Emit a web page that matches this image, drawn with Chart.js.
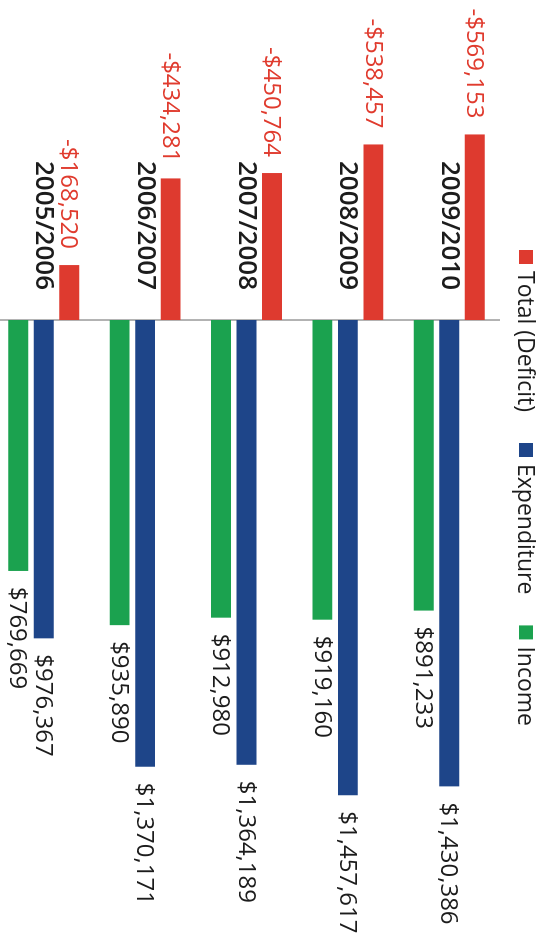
<!DOCTYPE html>
<html>
<head>
<meta charset="utf-8">
<script src="https://cdn.jsdelivr.net/npm/chart.js@4.4.0/dist/chart.umd.min.js"></script>
<style>
  html, body { margin: 0; padding: 0; background: #fff; overflow: hidden; width: 550px; height: 939px; }
  /* chart is drawn as a horizontal bar chart, then turned a quarter clockwise */
  #wrap { position: absolute; left: 0; top: 0; width: 939px; height: 557px; transform-origin: 0 0; transform: translate(550px, 0) rotate(90deg); }
</style>
</head>
<body>
<div id="wrap"><canvas id="chart"></canvas></div>
<script>
const years = ['2005/2006', '2006/2007', '2007/2008', '2008/2009', '2009/2010'];
const deficit = [-168520, -434281, -450764, -538457, -569153];
const expenditure = [976367, 1370171, 1364189, 1457617, 1430386];
const income = [769669, 935890, 912980, 919160, 891233];
const seriesNames = ['Total (Deficit)', 'Expenditure', 'Income'];
const seriesColors = ['#de3a2f', '#1e4589', '#1ba24f'];

const TEXT = '#1c1c1c';
const FONT = '"Open Sans", sans-serif';

function fmtMoney(v) {
  return (v < 0 ? '-$' : '$') + Math.abs(v).toLocaleString('en-US');
}

// zero line, category names next to it, value labels at bar ends
const labelsPlugin = {
  id: 'barLabels',
  beforeDatasetsDraw(chart) {
    const { ctx, chartArea, scales } = chart;
    const x0 = scales.x.getPixelForValue(0);
    ctx.save();
    ctx.strokeStyle = '#9a9a9a';
    ctx.lineWidth = 1.5;
    ctx.beginPath();
    ctx.moveTo(x0, chartArea.top);
    ctx.lineTo(x0, chartArea.bottom);
    ctx.stroke();
    ctx.restore();
  },
  afterDatasetsDraw(chart) {
    const { ctx, scales } = chart;
    const x0 = scales.x.getPixelForValue(0);
    ctx.save();
    ctx.textBaseline = 'middle';
    ctx.font = '600 26px ' + FONT;
    ctx.fillStyle = TEXT;
    ctx.textAlign = 'right';
    years.forEach((y, i) => ctx.fillText(y, x0 - 30, scales.y.getPixelForValue(i)));

    ctx.font = '500 24px ' + FONT;
    chart.data.datasets.forEach((ds, di) => {
      const meta = chart.getDatasetMeta(di);
      meta.data.forEach((bar, i) => {
        const v = ds.data[i];
        ctx.fillStyle = v < 0 ? '#e03b2e' : TEXT;
        ctx.textAlign = v < 0 ? 'right' : 'left';
        ctx.fillText(fmtMoney(v), v < 0 ? bar.x - 16 : bar.x + 16, bar.y + 1);
      });
    });
    ctx.restore();
  },
  afterDraw(chart) {
    const ctx = chart.ctx;
    ctx.save();
    ctx.font = '500 23px ' + FONT;
    ctx.textBaseline = 'middle';
    ctx.textAlign = 'left';
    const box = 14, boxGap = 7, itemGap = 31, cy = 24;
    const widths = seriesNames.map(n => box + boxGap + ctx.measureText(n).width);
    const total = widths.reduce((a, b) => a + b, 0) + itemGap * (widths.length - 1);
    let x = 488 - total / 2;
    seriesNames.forEach((n, i) => {
      ctx.fillStyle = seriesColors[i];
      ctx.fillRect(x, cy - box / 2, box, box);
      ctx.fillStyle = TEXT;
      ctx.fillText(n, x + box + boxGap, cy + 1);
      x += widths[i] + itemGap;
    });
    ctx.restore();
  }
};

new Chart(document.getElementById('chart'), {
  type: 'bar',
  data: {
    labels: years,
    datasets: [
      { label: seriesNames[0], data: deficit, backgroundColor: seriesColors[0] },
      { label: seriesNames[1], data: expenditure, backgroundColor: seriesColors[1] },
      { label: seriesNames[2], data: income, backgroundColor: seriesColors[2] },
    ]
  },
  options: {
    indexAxis: 'y',
    responsive: true,
    maintainAspectRatio: false,
    animation: false,
    datasets: { bar: { barPercentage: 0.78, categoryPercentage: 0.755 } },
    layout: { padding: { top: 50, left: 0, right: 0, bottom: 0 } },
    plugins: { legend: { display: false }, tooltip: { enabled: false } },
    scales: {
      x: { display: false, min: -981500, max: 1898500 },
      y: { display: false, reverse: true }
    }
  },
  plugins: [labelsPlugin]
});
</script>
</body>
</html>
